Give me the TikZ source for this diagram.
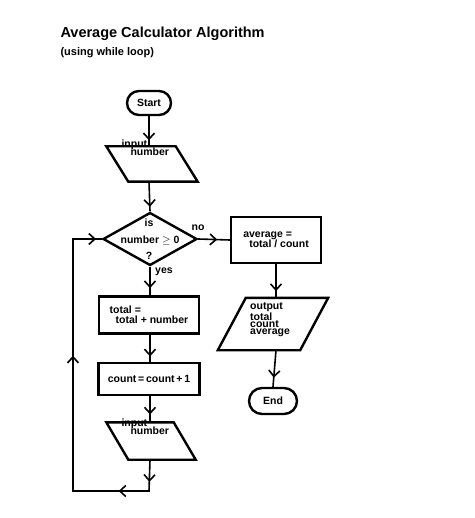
\documentclass[tikz,border=0pt]{standalone}
\usepackage{fontspec}
\setmainfont{Liberation Sans}
\usetikzlibrary{shapes.geometric,shapes.misc,calc,arrows.meta,decorations.markings}
\begin{document}
\begin{tikzpicture}[x=1pt,y=-1pt,
  >={Straight Barb[length=6pt,width=11pt]},
  txt/.style={font=\bfseries\fontsize{10.5}{10}\selectfont},
  box/.style={draw,line width=2.4pt,rectangle,txt,inner sep=0pt,align=left},
  pill/.style={draw,line width=2.4pt,rounded rectangle,txt,inner sep=0pt},
  para/.style={rectangle,txt,inner sep=0pt,align=left},
  pline/.style={line width=2.4pt,line join=miter},
  con/.style={line width=1.6pt},
  arr/.style={con,postaction={decorate},decoration={markings,mark=at position #1 with {\arrow{>}}}}
]
\useasboundingbox (0,0) rectangle (474,518);
\node[anchor=base west,font=\bfseries\fontsize{14.5}{15}\selectfont] (title) at (57,38) {Average Calculator Algorithm};
\node[anchor=base west,font=\bfseries\fontsize{11}{12}\selectfont] (sub) at (57,56) {(using while loop)};

\node[pill,minimum width=44pt,minimum height=24pt] (start) at (149,103) {Start};

\node[para,minimum width=69pt,minimum height=35pt] (in1) at (152,164) {};
\draw[pline] ($(in1.north west)+(-11,0)$) -- ($(in1.north east)+(-11,0)$) -- ($(in1.south east)+(11,0)$) -- ($(in1.south west)+(11,0)$) -- cycle;
\node[txt,anchor=base west,align=left] (in1t) at (118,156) {input\\[-2pt]\hspace*{9pt}number};

\node[draw,diamond,line width=2.4pt,minimum width=94pt,minimum height=53pt,inner sep=0pt] (dec) at (150,239) {};
\node[txt] (is) at (149,223) {is};
\node[txt] (num) at (150,240) {number $\geq$ 0};
\node[txt] (q) at (149,256) {?};
\node[txt] (no) at (198,228) {no};
\node[txt] (yes) at (164,272) {yes};

\node[box,minimum width=90pt,minimum height=46pt] (avg) at (276,240) {average =\\\hspace*{6pt}total / count};

\node[para,minimum width=82pt,minimum height=52pt] (out) at (273,324) {};
\draw[pline] ($(out.north west)+(14,0)$) -- ($(out.north east)+(14,0)$) -- ($(out.south east)+(-14,0)$) -- ($(out.south west)+(-14,0)$) -- cycle;
\node[txt,anchor=north west,align=left,inner sep=0pt] (outt) at (250,302) {output\\[1pt]total\\[-3pt]count\\[-3pt]average};

\node[pill,minimum width=48pt,minimum height=26pt] (end) at (273,401) {End};

\node[box,minimum width=100pt,minimum height=37pt] (tot) at (149,315) {total =\\\hspace*{6pt}total + number};
\node[box,minimum width=101pt,minimum height=32pt] (cnt) at (149,379) {count\,=\,count\,+\,1};

\node[para,minimum width=67pt,minimum height=37pt] (in2) at (151,441) {};
\draw[pline] ($(in2.north west)+(-11,0)$) -- ($(in2.north east)+(-11,0)$) -- ($(in2.south east)+(11,0)$) -- ($(in2.south west)+(11,0)$) -- cycle;
\node[txt,anchor=base west,align=left] (in2t) at (118,434) {input\\[-2pt]\hspace*{9pt}number};

\draw[arr=0.8] (start.south) -- (start.south |- in1.north);
\draw[arr=0.85] (start.south |- in1.south) -- (dec.north);
\draw[arr=0.6] (dec.east) -- (avg.west);
\draw[arr=0.75] (dec.south) -- (dec.south |- tot.north);
\draw[arr=0.8] (dec.south |- tot.south) -- (dec.south |- cnt.north);
\draw[arr=0.7] (dec.south |- cnt.south) -- (dec.south |- in2.north);
\draw[arr=0.8] (avg.south) -- (avg.south |- out.north);
\draw[arr=0.75] (avg.south |- out.south) -- (end.north);

\coordinate (c1) at (149,491);
\coordinate (c2) at (73,491);
\coordinate (c3) at (73,239);
\draw[con,line join=miter,postaction={decorate},decoration={markings,
  mark=at position 0.057 with {\arrow{>}},
  mark=at position 0.159 with {\arrow{>}},
  mark=at position 0.625 with {\arrow{>}},
  mark=at position 0.985 with {\arrow{>}}}]
  (dec.south |- in2.south) -- (c1) -- (c2) -- (c3) -- (dec.west);
\end{tikzpicture}
\end{document}
